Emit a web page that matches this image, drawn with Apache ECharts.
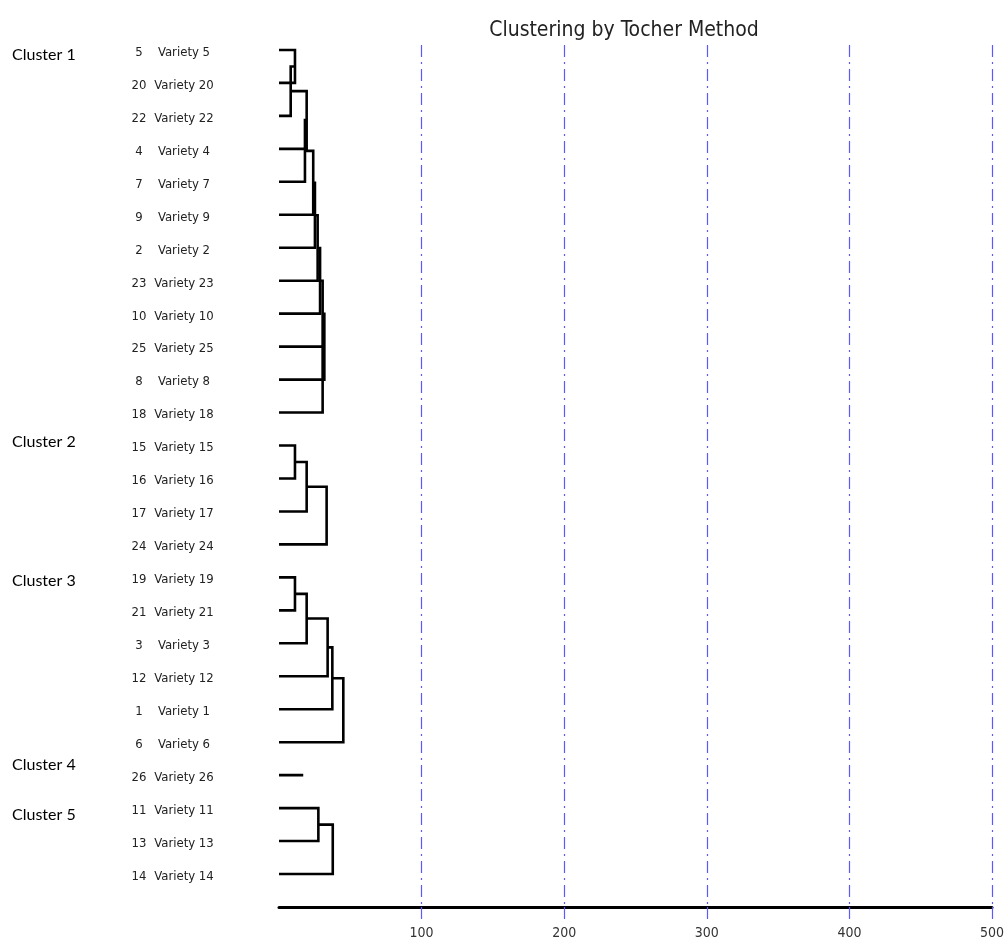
<!DOCTYPE html>
<html>
<head>
<meta charset="utf-8">
<script src="https://cdn.jsdelivr.net/npm/echarts@6/dist/echarts.min.js"></script>
<style>
html,body{margin:0;padding:0;background:#fff;}
#chart{width:1008px;height:952px;}
</style>
</head>
<body>
<div id="chart"></div>
<script>
// Leaf order (top to bottom), variety numbers
var leafOrder = [5, 20, 22, 4, 7, 9, 2, 23, 10, 25, 8, 18, 15, 16, 17, 24, 19, 21, 3, 12, 1, 6, 26, 11, 13, 14];
// Merges: [a, b, height]; positive = variety number, negative = earlier merge index (1-based)
var merges = [
  [5, 20, 11.2],
  [-1, 22, 8.2],
  [-2, 4, 19.4],
  [-3, 7, 18.2],
  [-4, 9, 24.0],
  [-5, 2, 25.2],
  [-6, 23, 27.1],
  [-7, 10, 28.8],
  [-8, 25, 30.6],
  [-9, 8, 31.8],
  [-10, 18, 30.6],
  [15, 16, 11.2],
  [-12, 17, 19.4],
  [-13, 24, 33.4],
  [19, 21, 11.2],
  [-15, 3, 19.4],
  [-16, 12, 34.1],
  [-17, 1, 37.4],
  [-18, 6, 45.1],
  [11, 13, 27.6],
  [-20, 14, 37.7]
];
// Singleton clusters: [variety, line length]
var singletons = [[26, 17.0]];
var clusterNames = ['Cluster 1', 'Cluster 2', 'Cluster 3', 'Cluster 4', 'Cluster 5'];
var clusterTops = [47, 434, 573, 757, 807];
var xTicks = [100, 200, 300, 400, 500];

var leafRow = {};
leafOrder.forEach(function (v, i) { leafRow[v] = i; });
var nodes = [];
function nodeInfo(id) {
  if (id > 0) return { y: leafRow[id], h: 0 };
  return nodes[-id - 1];
}
var segs = [];
merges.forEach(function (m) {
  var a = nodeInfo(m[0]), b = nodeInfo(m[1]), h = m[2];
  segs.push({ coords: [[a.h, a.y], [h, a.y], [h, b.y], [b.h, b.y]] });
  nodes.push({ y: (a.y + b.y) / 2, h: h });
});
singletons.forEach(function (s) {
  segs.push({ coords: [[0, leafRow[s[0]]], [s[1], leafRow[s[0]]]] });
});

var narrow = '"Liberation Sans Narrow", "DejaVu Sans Condensed", "Liberation Sans", sans-serif';
var chart = echarts.init(document.getElementById('chart'));
chart.setOption({
  animation: false,
  backgroundColor: '#fff',
  title: {
    text: 'Clustering by Tocher Method',
    left: 619, top: 15, textAlign: 'center',
    textStyle: { fontFamily: narrow, fontSize: 21, fontWeight: 'normal', color: '#222' }
  },
  grid: { left: 279, right: 16, top: 45, bottom: 45, containLabel: false },
  xAxis: {
    type: 'value', position: 'bottom', min: 0, max: 500, interval: 100,
    axisLine: { show: true, onZero: false, lineStyle: { color: '#000', width: 3 } },
    axisTick: { show: true, length: 12, customValues: xTicks, lineStyle: { color: '#5a5aff', width: 1.2 } },
    axisLabel: {
      margin: 19, fontFamily: narrow, fontSize: 14, color: '#333',
      formatter: function (v) { return xTicks.indexOf(v) >= 0 ? String(v) : ''; }
    },
    splitLine: { show: true, lineStyle: { color: '#5a5aff', width: 1.2, type: [12, 5, 2, 5] } }
  },
  yAxis: {
    type: 'value', inverse: true, min: -0.15, max: 26,
    axisLine: { show: false }, axisTick: { show: false }, splitLine: { show: false },
    axisLabel: {
      show: true,
      customValues: leafOrder.map(function (v, i) { return i; }),
      margin: 61,
      formatter: function (v) {
        var n = leafOrder[Math.round(v)];
        if (n === undefined) return '';
        return '{n|' + n + '}{v|Variety ' + n + '}';
      },
      rich: {
        n: { width: 22, align: 'center', fontFamily: narrow, fontSize: 13, color: '#222', padding: [5, 0, 0, 0] },
        v: { width: 68, align: 'center', fontFamily: narrow, fontSize: 13, color: '#222', padding: [5, 0, 0, 0] }
      }
    }
  },
  graphic: clusterNames.map(function (c, i) {
    return {
      type: 'text', left: 12, top: clusterTops[i],
      style: { text: c, fontFamily: 'Lato, "Open Sans", sans-serif', fontSize: 16, fill: '#000' }
    };
  }),
  series: [{
    type: 'lines',
    coordinateSystem: 'cartesian2d',
    polyline: true,
    silent: true,
    data: segs,
    lineStyle: { color: '#000', width: 2.6, opacity: 1 },
    z: 5
  }]
});
</script>
</body>
</html>
